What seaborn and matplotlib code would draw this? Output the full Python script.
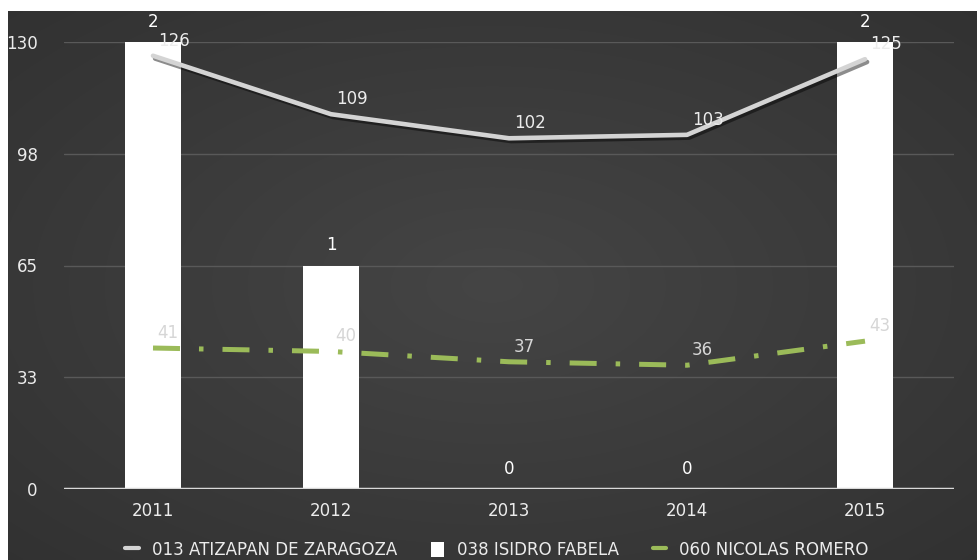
import numpy as np
import pandas as pd
import matplotlib
matplotlib.use("Agg")
import matplotlib.pyplot as plt
import matplotlib.patheffects as pe
from matplotlib.lines import Line2D
from matplotlib.patches import Patch
import seaborn as sns

# ---- data ----
years = ["2011", "2012", "2013", "2014", "2015"]
atizapan = [126, 109, 102, 103, 125]      # 013 ATIZAPAN DE ZARAGOZA (left scale)
isidro = [2, 1, 0, 0, 2]                  # 038 ISIDRO FABELA (bars, secondary scale)
nicolas = [41, 40, 37, 36, 43]            # 060 NICOLAS ROMERO (left scale)
y_ticks = [0, 32.5, 65, 97.5, 130]
y_tick_labels = ["0", "33", "65", "98", "130"]
bar_ticks = [0, 0.5, 1, 1.5, 2]
series_names = ["013 ATIZAPAN DE ZARAGOZA", "038 ISIDRO FABELA", "060 NICOLAS ROMERO"]

GRAY_LINE = "#d4d4d4"
GREEN = "#9bbb59"
TEXT = "#ececec"
FS = 12

sns.set_theme(style="dark")
plt.rcParams["font.family"] = ["DejaVu Sans"]

W, H = 977, 560
fig = plt.figure(figsize=(W / 100, H / 100), dpi=100)
fig.patch.set_facecolor("white")

# dark panel with a soft radial shading
bg = fig.add_axes([8 / W, 0, (W - 8) / W, (H - 11) / H], zorder=-10)
ny, nx = 220, 380
yy, xx = np.mgrid[-1:1:ny * 1j, -1:1:nx * 1j]
r = np.sqrt(xx ** 2 + yy ** 2) / np.sqrt(2)
shade = 0.27 - 0.075 * r
bg.imshow(np.dstack([shade] * 3), aspect="auto", interpolation="bilinear",
          extent=(0, 1, 0, 1))
bg.set_axis_off()

# main axes (lines, left scale) and twin axes (bars)
ax = fig.add_axes([64 / W, 71 / H, 890 / W, 447 / H])
axb = ax.twinx()
ax.set_zorder(2)
axb.set_zorder(1)
ax.patch.set_visible(False)
axb.patch.set_visible(False)

# bars
df_bar = pd.DataFrame({"year": years, "value": isidro})
sns.barplot(data=df_bar, x="year", y="value", ax=axb, color="white",
            saturation=1, width=0.315, linewidth=0)
axb.set_ylim(0, 2)
axb.set_yticks(bar_ticks)
axb.yaxis.grid(True, color="#595959", lw=1.0)
axb.set_axisbelow(True)
axb.tick_params(right=False, labelright=False, length=0)
axb.set_ylabel("")
axb.set_xlabel("")
for s in axb.spines.values():
    s.set_visible(False)

# lines
pos = np.arange(len(years))
sns.lineplot(x=pos, y=atizapan, ax=ax, color=GRAY_LINE, lw=3.3,
             solid_joinstyle="round", solid_capstyle="round",
             path_effects=[pe.SimpleLineShadow(offset=(1.5, -2), shadow_color="black", alpha=0.45),
                           pe.Normal()])
sns.lineplot(x=pos, y=nicolas, ax=ax, color=GREEN, lw=3.6)
green_line = ax.lines[-1]
green_line.set_linestyle((0, (5.4, 3.8, 0.9, 3.8)))

# zero baseline
ax.axhline(0, color="#d9d9d9", lw=2.5, zorder=1)

ax.set_xlim(-0.5, len(years) - 0.5)
ax.set_ylim(0, 130)
ax.set_yticks(y_ticks)
ax.set_yticklabels(y_tick_labels)
ax.set_xticks(pos)
ax.set_xticklabels(years)
ax.tick_params(axis="y", length=0, pad=19, labelsize=FS, labelcolor=TEXT)
ax.tick_params(axis="x", length=0, pad=9, labelsize=FS, labelcolor=TEXT)
ax.set_xlabel("")
ax.set_ylabel("")
ax.grid(False)
for s in ax.spines.values():
    s.set_visible(False)

# value labels
for i, v in enumerate(isidro):
    axb.annotate(str(v), (pos[i], v), xytext=(0, 11), textcoords="offset pixels",
                 ha="center", va="bottom", color="white", fontsize=FS,
                 annotation_clip=False, zorder=5)
for i, v in enumerate(atizapan):
    ax.annotate(str(v), (pos[i], v), xytext=(21, 15), textcoords="offset pixels",
                ha="center", va="center", color=TEXT, fontsize=FS,
                annotation_clip=False, zorder=6)
for i, v in enumerate(nicolas):
    ax.annotate(str(v), (pos[i], v), xytext=(15, 15), textcoords="offset pixels",
                ha="center", va="center", color="#d6d6d6", fontsize=FS,
                annotation_clip=False, zorder=6)

# legend
handles = [
    Line2D([0], [0], color=GRAY_LINE, lw=3),
    Patch(facecolor="white", edgecolor="none"),
    Line2D([0], [0], color=GREEN, lw=3),
]
fig.legend(handles, series_names, loc="center", bbox_to_anchor=(497 / W, 10 / H),
           ncol=3, frameon=False, fontsize=FS, labelcolor=TEXT,
           handlelength=0.8, handleheight=1.0, handletextpad=0.8, columnspacing=2.0)

fig.savefig("out.png", dpi=100, facecolor=fig.get_facecolor())
